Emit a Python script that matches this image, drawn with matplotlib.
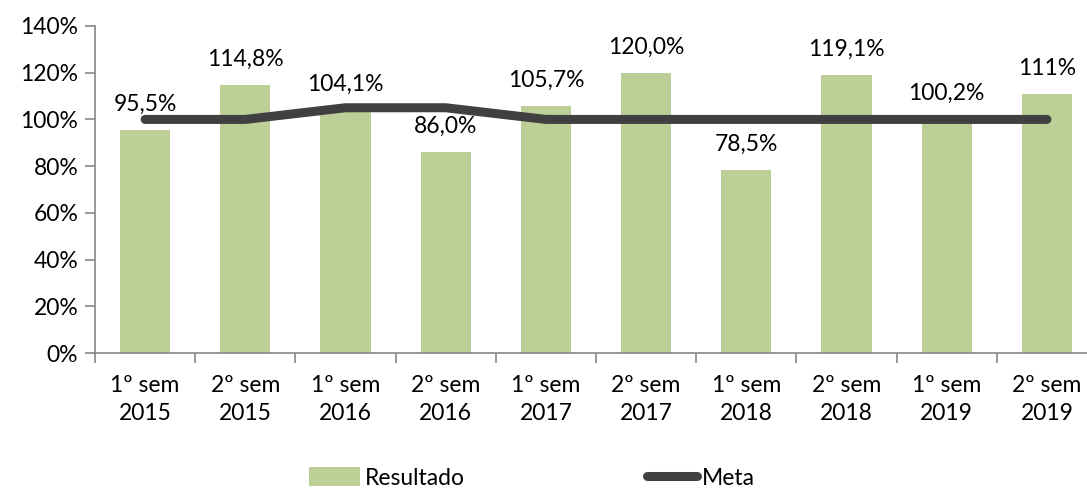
import matplotlib
matplotlib.use("Agg")
import matplotlib.pyplot as plt
from matplotlib.patches import Patch
from matplotlib.lines import Line2D
import numpy as np

categories = ["1º sem\n2015", "2º sem\n2015", "1º sem\n2016", "2º sem\n2016", "1º sem\n2017",
              "2º sem\n2017", "1º sem\n2018", "2º sem\n2018", "1º sem\n2019", "2º sem\n2019"]
resultado = [95.5, 114.8, 104.1, 86.0, 105.7, 120.0, 78.5, 119.1, 100.2, 110.7]
labels = ["95,5%", "114,8%", "104,1%", "86,0%", "105,7%", "120,0%", "78,5%", "119,1%", "100,2%", "111%"]
meta = [100, 100, 105, 105, 100, 100, 100, 100, 100, 100]
yticks = [0, 20, 40, 60, 80, 100, 120, 140]

plt.rcParams['font.family'] = ['Lato', 'DejaVu Sans']
FS = 16.5

W, H = 1087, 488
fig = plt.figure(figsize=(W/100, H/100), dpi=100)
left, right, top, bottom = 95, 1097, 26, 353
ax = fig.add_axes([left/W, 1-bottom/H, (right-left)/W, (bottom-top)/H])

x = np.arange(len(categories))
green = "#bbcf97"
ax.bar(x, resultado, width=0.5, color=green, zorder=2)
ax.plot(x, meta, color="#404040", lw=6.5, solid_capstyle="round", solid_joinstyle="round", zorder=3)

for xi, v, lab in zip(x, resultado, labels):
    ax.text(xi, v + 11, lab, ha="center", va="center", fontsize=FS, color="black", zorder=4)

ax.set_xlim(-0.5, len(categories) - 0.5)
ax.set_ylim(0, 140)
ax.set_yticks(yticks)
ax.set_yticklabels([f"{t}%" for t in yticks], fontsize=FS)
ax.set_xticks(x)
ax.set_xticklabels(categories, fontsize=FS, linespacing=1.4)
ax.tick_params(axis="x", length=0, pad=16)
ax.set_xticks(np.arange(len(categories) + 1) - 0.5, minor=True)
ax.tick_params(axis="x", which="minor", length=7, color="#868686", width=1.2)
ax.tick_params(axis="y", length=7, color="#868686", width=1.2, pad=5)

for s in ["top", "right"]:
    ax.spines[s].set_visible(False)
for s in ["left", "bottom"]:
    ax.spines[s].set_color("#868686")
    ax.spines[s].set_linewidth(1.2)

handles = [Patch(facecolor=green, edgecolor="none"),
           Line2D([0], [0], color="#404040", lw=6.5, solid_capstyle="round")]
fig.legend(handles, ["Resultado", "Meta"], loc="center", bbox_to_anchor=(532/W, 1-478/H),
           ncol=2, frameon=False, fontsize=FS, handlelength=2.2, handleheight=0.9,
           handletextpad=0.2, columnspacing=7.95, borderpad=0, borderaxespad=0)

fig.savefig("out.png", dpi=100)
